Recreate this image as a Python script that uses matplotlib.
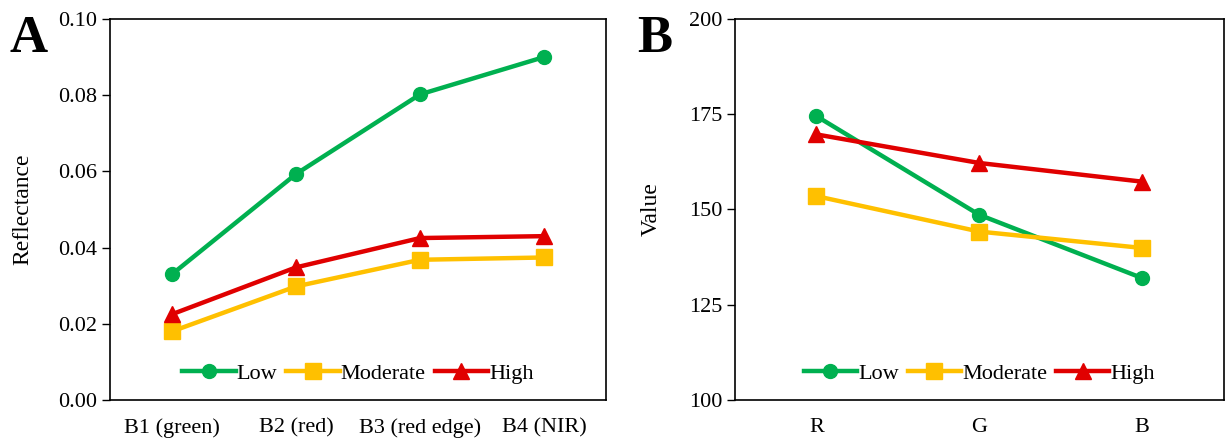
import matplotlib.pyplot as plt
import numpy as np

plt.rcParams['font.family'] = ['Liberation Serif', 'DejaVu Serif']

# Panel A data
bands = ['B1 (green)', 'B2 (red)', 'B3 (red edge)', 'B4 (NIR)']
refl_low = [0.0330, 0.0593, 0.0802, 0.0900]
refl_moderate = [0.0180, 0.0298, 0.0368, 0.0374]
refl_high = [0.0225, 0.0348, 0.0425, 0.0430]

# Panel B data
channels = ['R', 'G', 'B']
val_low = [174.5, 148.6, 132.0]
val_moderate = [153.5, 144.2, 139.9]
val_high = [169.7, 162.2, 157.3]

labels = ['Low', 'Moderate', 'High']
colors = ['#00B050', '#FFC000', '#E00000']
markers = ['o', 's', '^']
msizes = [10, 11, 11]


def draw(ax, cats, series, ylim, yticks, ylabel, fmt, letter, letter_x):
    x = np.arange(len(cats))
    for ys, lab, c, m, ms in zip(series, labels, colors, markers, msizes):
        ax.plot(x, ys, color=c, lw=3.2, marker=m, ms=ms, label=lab)
    ax.set_xlim(-0.5, len(cats) - 0.5)
    ax.set_ylim(*ylim)
    ax.set_yticks(yticks)
    ax.set_yticklabels([fmt.format(v) for v in yticks])
    ax.set_xticks(x)
    ax.set_xticklabels(cats)
    ax.tick_params(axis='x', length=0, pad=13, labelsize=16)
    ax.tick_params(axis='y', length=6, width=1, direction='out', labelsize=16, pad=3)
    ax.set_ylabel(ylabel, fontsize=17)
    for s in ax.spines.values():
        s.set_linewidth(1.2)
    ax.legend(loc='lower center', bbox_to_anchor=(0.5, -0.01), ncol=3, frameon=False,
              fontsize=16, handlelength=2.4, handletextpad=0.05, columnspacing=0.4)
    ax.figure.text(letter_x, 0.965, letter, fontsize=38, fontweight='bold', va='top', ha='left')


fig = plt.figure(figsize=(12.26, 4.41), dpi=100)
ax1 = fig.add_axes([0.0897, 0.093, 0.4046, 0.864])
ax2 = fig.add_axes([0.5995, 0.093, 0.3985, 0.864])

draw(ax1, bands, [refl_low, refl_moderate, refl_high], (0, 0.1),
     [0.0, 0.02, 0.04, 0.06, 0.08, 0.10], 'Reflectance', '{:.2f}', 'A', 0.008)
draw(ax2, channels, [val_low, val_moderate, val_high], (100, 200),
     [100, 125, 150, 175, 200], 'Value', '{:.0f}', 'B', 0.52)
ax1.yaxis.set_label_coords(-0.155, 0.5)
ax2.yaxis.set_label_coords(-0.15, 0.5)

fig.savefig('out.png', dpi=100)
